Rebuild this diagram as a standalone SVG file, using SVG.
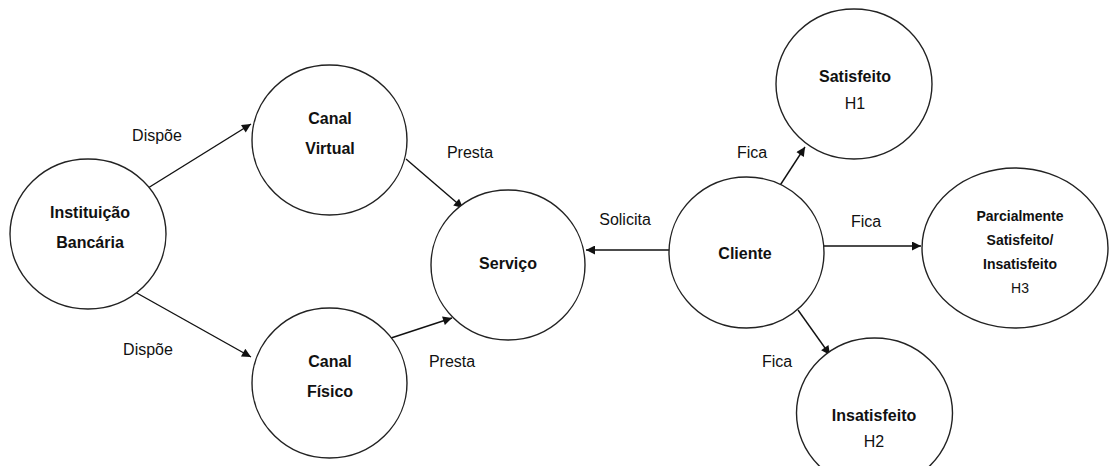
<svg xmlns="http://www.w3.org/2000/svg" width="1110" height="466" viewBox="0 0 1110 466">
<style>
.node{fill:#fff;stroke:#222;stroke-width:1.4}
.t{font-family:"Liberation Sans",Arial,sans-serif;font-size:16px;font-weight:bold;fill:#111;text-anchor:middle}
.n{font-family:"Liberation Sans",Arial,sans-serif;font-size:16px;fill:#111;text-anchor:middle}
.s{font-size:14px}
.lbl{font-family:"Liberation Sans",Arial,sans-serif;font-size:16px;fill:#111;text-anchor:middle}
.edge{stroke:#111;stroke-width:1.4;fill:none;marker-end:url(#ah)}
</style>
<defs>
<marker id="ah" viewBox="0 0 10 10" refX="10" refY="5" markerWidth="11" markerHeight="9" markerUnits="userSpaceOnUse" orient="auto">
<path d="M0,0 L10,5 L0,10 z" fill="#111"/>
</marker>
</defs>
<rect width="1110" height="466" fill="#fff"/>
<g id="connectors">
<line class="edge" x1="148" y1="188" x2="251" y2="124"/>
<line class="edge" x1="135" y1="292" x2="251" y2="357"/>
<line class="edge" x1="406" y1="159" x2="463" y2="208"/>
<line class="edge" x1="388" y1="339" x2="452" y2="318"/>
<line class="edge" x1="670" y1="250" x2="586" y2="250"/>
<line class="edge" x1="777" y1="190" x2="805" y2="147"/>
<line class="edge" x1="823" y1="246" x2="921" y2="246"/>
<line class="edge" x1="798" y1="310" x2="830" y2="355"/>
<text class="lbl" x="157" y="141">Dispõe</text>
<text class="lbl" x="148" y="355">Dispõe</text>
<text class="lbl" x="470" y="158">Presta</text>
<text class="lbl" x="452" y="367">Presta</text>
<text class="lbl" x="625" y="225">Solicita</text>
<text class="lbl" x="752" y="158">Fica</text>
<text class="lbl" x="866" y="227">Fica</text>
<text class="lbl" x="777" y="367">Fica</text>
</g>
<g id="instituicao">
<ellipse class="node" cx="88" cy="234" rx="78" ry="75"/>
<text class="t" x="90" y="218">Instituição</text>
<text class="t" x="90" y="248">Bancária</text>
</g>
<g id="canal-virtual">
<ellipse class="node" cx="329.5" cy="140" rx="77.5" ry="75"/>
<text class="t" x="330" y="124">Canal</text>
<text class="t" x="330" y="154">Virtual</text>
</g>
<g id="canal-fisico">
<ellipse class="node" cx="329.5" cy="383" rx="77.5" ry="75"/>
<text class="t" x="330" y="367">Canal</text>
<text class="t" x="330" y="397">Físico</text>
</g>
<g id="servico">
<ellipse class="node" cx="508" cy="265" rx="77" ry="75"/>
<text class="t" x="508" y="269">Serviço</text>
</g>
<g id="cliente">
<ellipse class="node" cx="746.5" cy="252.5" rx="77.5" ry="75.5"/>
<text class="t" x="745" y="259">Cliente</text>
</g>
<g id="satisfeito">
<ellipse class="node" cx="854" cy="84" rx="78" ry="75"/>
<text class="t" x="855" y="82">Satisfeito</text>
<text class="n" x="855" y="109">H1</text>
</g>
<g id="parcial">
<ellipse class="node" cx="1015" cy="248" rx="93" ry="80"/>
<text class="t s" x="1020" y="221">Parcialmente</text>
<text class="t s" x="1020" y="245">Satisfeito/</text>
<text class="t s" x="1020" y="269">Insatisfeito</text>
<text class="n s" x="1020" y="293">H3</text>
</g>
<g id="insatisfeito">
<ellipse class="node" cx="874.5" cy="413" rx="78" ry="75"/>
<text class="t" x="874" y="421">Insatisfeito</text>
<text class="n" x="874" y="447">H2</text>
</g>
</svg>
